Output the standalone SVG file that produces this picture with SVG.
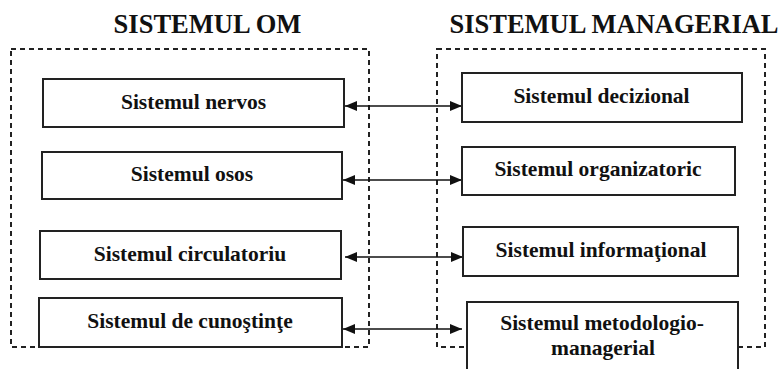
<svg xmlns="http://www.w3.org/2000/svg" width="782" height="369" viewBox="0 0 782 369">
<style>
.title{font-family:"Liberation Serif","Times New Roman",serif;font-weight:bold;font-size:26.5px;fill:#111;text-anchor:middle}
.lbl{font-family:"Liberation Serif","Times New Roman",serif;font-weight:bold;font-size:21.5px;fill:#111;text-anchor:middle}
.box{fill:#fff;stroke:#222;stroke-width:2}
.grp{fill:none;stroke:#222;stroke-width:2;stroke-dasharray:5 4}
.conn{stroke:#111;stroke-width:1.6;fill:none;marker-start:url(#ah);marker-end:url(#ah)}
</style>
<defs>
<marker id="ah" viewBox="0 0 12 10" refX="12" refY="5" markerWidth="12" markerHeight="10" markerUnits="userSpaceOnUse" orient="auto-start-reverse">
<path d="M0,0 L12,5 L0,10 Z" fill="#111"/>
</marker>
</defs>
<rect width="782" height="369" fill="#fff"/>
<g id="group-om">
<text class="title" x="207.5" y="33">SISTEMUL OM</text>
<rect class="grp" x="11" y="49" width="358" height="298"/>
</g>
<g id="group-managerial">
<text class="title" x="614" y="33">SISTEMUL MANAGERIAL</text>
<rect class="grp" x="437" y="49" width="328" height="298"/>
</g>
<g id="connectors">
<line class="conn" x1="345" y1="106" x2="462" y2="106"/>
<line class="conn" x1="343" y1="180" x2="462" y2="180"/>
<line class="conn" x1="345" y1="257" x2="463" y2="257"/>
<line class="conn" x1="343" y1="329" x2="462" y2="329"/>
</g>
<g id="n-nervos"><rect class="box" x="43" y="79" width="301" height="48"/><text class="lbl" x="193.5" y="109">Sistemul nervos</text></g>
<g id="n-osos"><rect class="box" x="42" y="152" width="300" height="47"/><text class="lbl" x="192" y="181">Sistemul osos</text></g>
<g id="n-circulatoriu"><rect class="box" x="40" y="231" width="301" height="48"/><text class="lbl" x="190" y="261">Sistemul circulatoriu</text></g>
<g id="n-cunostinte"><rect class="box" x="39" y="298" width="303" height="49"/><text class="lbl" x="190" y="328">Sistemul de cunoştinţe</text></g>
<g id="n-decizional"><rect class="box" x="462" y="73" width="280" height="49"/><text class="lbl" x="601.5" y="103">Sistemul decizional</text></g>
<g id="n-organizatoric"><rect class="box" x="462" y="147" width="273" height="48"/><text class="lbl" x="598" y="176">Sistemul organizatoric</text></g>
<g id="n-informational"><rect class="box" x="463" y="227" width="275" height="49"/><text class="lbl" x="601" y="257">Sistemul informaţional</text></g>
<g id="n-metodologio"><rect class="box" x="467" y="302" width="271" height="80"/><text class="lbl" x="602" y="330">Sistemul metodologio-</text><text class="lbl" x="603" y="355">managerial</text></g>
</svg>
